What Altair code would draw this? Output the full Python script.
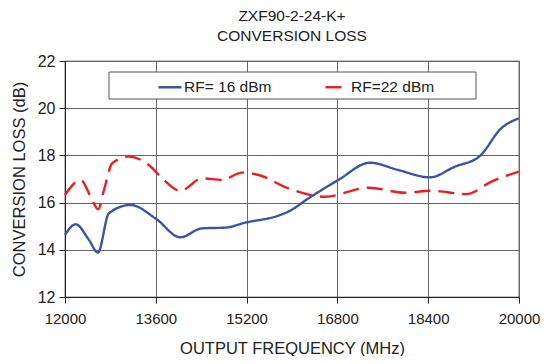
import altair as alt
import pandas as pd

freq_16 = [12000, 12188, 12422, 12580, 12774, 13155, 13595, 14034, 14414, 14825,
           15177, 15762, 15938, 16290, 16817, 17374, 17872, 18429, 18869, 19308,
           19688, 19994]
loss_16 = [14.63, 15.08, 14.42, 13.88, 15.55, 15.90, 15.33, 14.53, 14.91, 14.94,
           15.15, 15.45, 15.62, 16.18, 16.96, 17.69, 17.38, 17.07, 17.52, 17.97,
           19.15, 19.57]

freq_22 = [12000, 12276, 12452, 12586, 12686, 12833, 13126, 13477, 13711, 14034,
           14414, 14766, 15118, 15411, 15938, 16584, 17346, 17991, 18460, 19075,
           19514, 19994]
loss_22 = [16.32, 16.96, 16.25, 15.72, 16.53, 17.67, 17.95, 17.59, 17.03, 16.50,
           17.03, 16.96, 17.27, 17.17, 16.60, 16.25, 16.63, 16.42, 16.50, 16.36,
           16.89, 17.31]

series_names = ["RF= 16 dBm", "RF=22 dBm"]
series_colors = ["#3A55A5", "#EE1D25"]

x_ticks = [12000, 13600, 15200, 16800, 18400, 20000]
y_ticks = [12, 14, 16, 18, 20, 22]

df = pd.concat([
    pd.DataFrame({"freq": freq_16, "loss": loss_16, "series": series_names[0]}),
    pd.DataFrame({"freq": freq_22, "loss": loss_22, "series": series_names[1]}),
])

FONT = "Liberation Sans"

lines = alt.Chart(df).mark_line(interpolate="monotone", strokeWidth=2.4).encode(
    x=alt.X("freq:Q", scale=alt.Scale(domain=[12000, 20000], nice=False),
            axis=alt.Axis(values=x_ticks, title="OUTPUT FREQUENCY (MHz)", format="d",
                          labelFlush=False, labelPadding=8, titlePadding=14,
                          labelFontSize=15)),
    y=alt.Y("loss:Q", scale=alt.Scale(domain=[12, 22], nice=False),
            axis=alt.Axis(values=y_ticks, title="CONVERSION LOSS (dB)", titlePadding=10,
                          labelFontSize=16, labelFlush=False)),
    color=alt.Color("series:N",
                    scale=alt.Scale(domain=series_names, range=series_colors),
                    legend=alt.Legend(orient="none", legendX=92, legendY=13,
                                      direction="horizontal", title=None,
                                      symbolType="stroke", symbolSize=529,
                                      symbolStrokeWidth=2.4, columnPadding=48,
                                      labelFont=FONT, labelFontSize=15.5,
                                      labelColor="#222222", labelOffset=1,
                                      padding=0)),
    strokeDash=alt.StrokeDash("series:N",
                              scale=alt.Scale(domain=series_names, range=[[1, 0], [16, 8]]),
                              legend=None),
)

box = alt.Chart(alt.Data(values=[{"a": 1}])).mark_rect(
    fill="white", stroke="#555555", strokeWidth=1
).encode(x=alt.value(44), x2=alt.value(411), y=alt.value(11), y2=alt.value(38))

chart = alt.layer(box, lines).properties(
    width=454, height=236,
    title=alt.TitleParams(["ZXF90-2-24-K+", "CONVERSION LOSS"], font=FONT, fontSize=15.5,
                          fontWeight="normal", color="#222222", anchor="middle",
                          offset=9, lineHeight=20),
    padding={"left": 57, "top": 53, "right": 22, "bottom": 59},
    autosize=alt.AutoSizeParams(type="none"),
).configure_view(stroke="#222222", strokeWidth=1.2).configure_axis(
    grid=True, gridColor="#666666", gridWidth=1, domainColor="#222222",
    tickColor="#222222", tickSize=6, labelFont=FONT, labelFontSize=15.5,
    labelColor="#222222", titleFont=FONT, titleFontSize=16.5, titleFontWeight="normal",
    titleColor="#222222", labelPadding=4,
)

chart.save("out.html", embed_options={"renderer": "svg", "actions": False})
